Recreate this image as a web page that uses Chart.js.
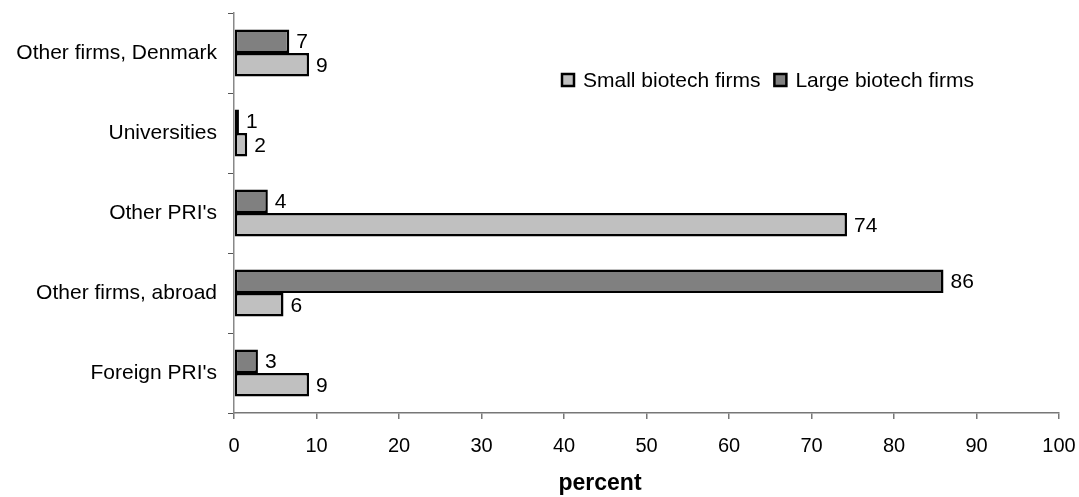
<!DOCTYPE html>
<html>
<head>
<meta charset="utf-8">
<script src="https://cdn.jsdelivr.net/npm/chart.js@4"></script>
<style>
  html, body { margin: 0; padding: 0; background: #fff; }
  #wrap { width: 1079px; height: 497px; }
</style>
</head>
<body>
<div id="wrap"><canvas id="myChart"></canvas></div>
<script>
// Data
const categories = ["Other firms, Denmark", "Universities", "Other PRI's", "Other firms, abroad", "Foreign PRI's"];
const largeFirms = [6.7, 0.6, 4.1, 86, 2.9];
const smallFirms = [9.1, 1.6, 74.3, 6.0, 9.1];
const xTicks = [0, 10, 20, 30, 40, 50, 60, 70, 80, 90, 100];
const xTitle = 'percent';

const FONT = "'Liberation Sans', Arial, sans-serif";

// Numbers at the end of each bar
const valueLabels = {
    id: 'valueLabels',
    afterDatasetsDraw(chart) {
        const ctx = chart.ctx;
        ctx.save();
        ctx.font = '21px ' + FONT;
        ctx.fillStyle = '#000';
        ctx.textAlign = 'left';
        ctx.textBaseline = 'middle';
        chart.data.datasets.forEach((ds, i) => {
            chart.getDatasetMeta(i).data.forEach((bar, j) => {
                ctx.fillText(Math.round(ds.data[j]), bar.x + 7, bar.y + 1);
            });
        });
        ctx.restore();
    }
};

// Legend inside the plot (Small first, then Large) and the axis title
const extras = {
    id: 'extras',
    afterDraw(chart) {
        const ctx = chart.ctx;
        const items = [chart.data.datasets[1], chart.data.datasets[0]];
        let x = 562;
        const y = 80;
        ctx.save();
        ctx.font = '21px ' + FONT;
        ctx.textBaseline = 'middle';
        items.forEach(ds => {
            ctx.fillStyle = ds.backgroundColor;
            ctx.fillRect(x, y - 6, 12, 12);
            ctx.lineWidth = 2.5;
            ctx.strokeStyle = '#000';
            ctx.strokeRect(x, y - 6, 12, 12);
            ctx.fillStyle = '#000';
            ctx.fillText(ds.label, x + 21, y + 1);
            x += 21 + ctx.measureText(ds.label).width + 14;
        });
        ctx.font = 'bold 23px ' + FONT;
        ctx.textAlign = 'center';
        ctx.fillText(xTitle, 600, 484);
        ctx.restore();
    }
};

new Chart(document.getElementById('myChart'), {
    type: 'bar',
    data: {
        labels: categories,
        datasets: [
            {
                label: 'Large biotech firms',
                data: largeFirms,
                backgroundColor: '#808080',
                borderColor: '#000',
                borderWidth: 2.5,
                borderSkipped: false
            },
            {
                label: 'Small biotech firms',
                data: smallFirms,
                backgroundColor: '#c0c0c0',
                borderColor: '#000',
                borderWidth: 2.5,
                borderSkipped: false
            }
        ]
    },
    options: {
        indexAxis: 'y',
        responsive: true,
        maintainAspectRatio: false,
        animation: false,
        layout: { padding: { top: 13, right: 20, left: 0, bottom: 0 } },
        categoryPercentage: 0.59,
        barPercentage: 1,
        plugins: {
            legend: { display: false },
            tooltip: { enabled: false }
        },
        scales: {
            x: {
                min: 0,
                max: 100,
                afterBuildTicks: s => { s.ticks = xTicks.map(v => ({ value: v })); },
                afterFit: s => { s.height = 84; s.paddingLeft = 0; s.paddingRight = 0; },
                border: { color: '#777', width: 1.5 },
                grid: { drawOnChartArea: false, tickLength: 6, color: '#777', lineWidth: 1.5 },
                ticks: { color: '#000', font: { size: 20, family: FONT }, padding: 15, maxRotation: 0 }
            },
            y: {
                afterFit: s => { s.width = 234; s.paddingTop = 0; s.paddingBottom = 0; },
                border: { color: '#888', width: 1.5 },
                grid: { offset: true, drawOnChartArea: false, tickLength: 6, color: '#555', lineWidth: 1 },
                ticks: { color: '#000', font: { size: 21, family: FONT }, padding: 11 }
            }
        }
    },
    plugins: [valueLabels, extras]
});
</script>
</body>
</html>
